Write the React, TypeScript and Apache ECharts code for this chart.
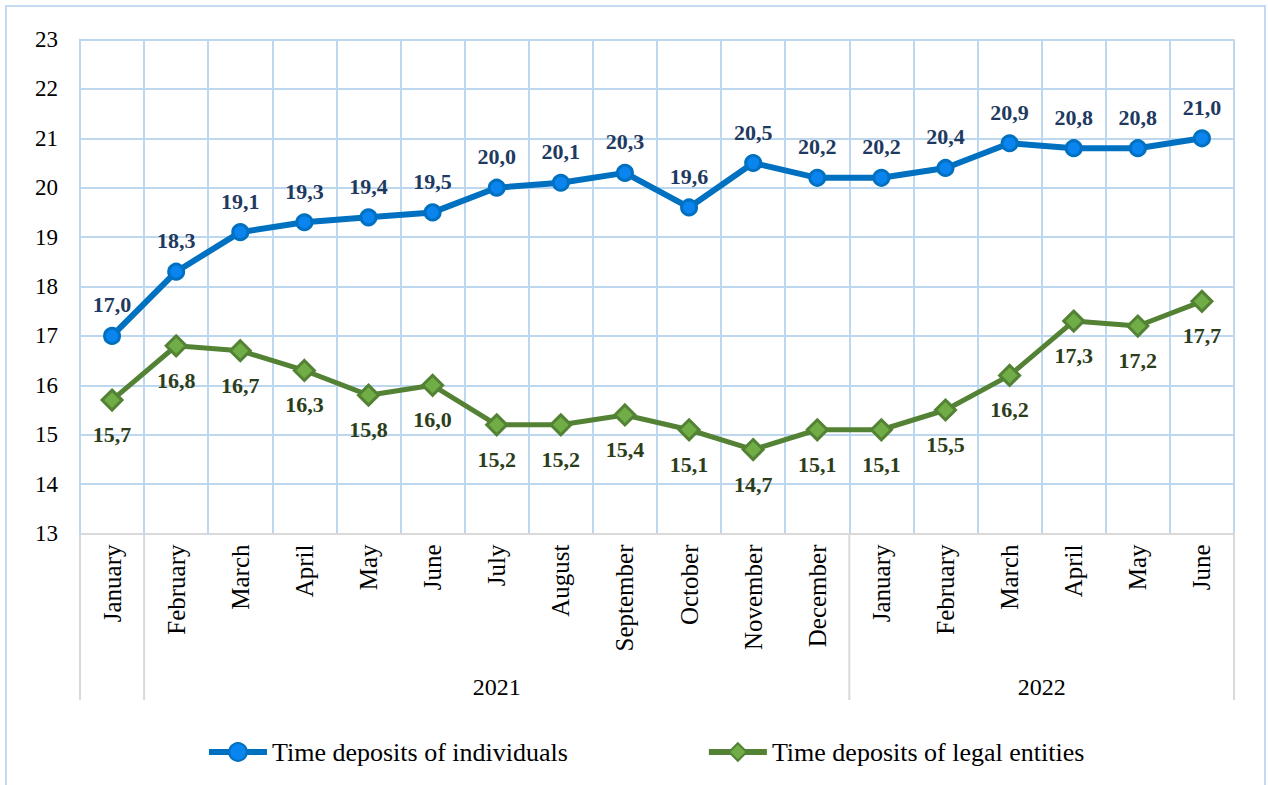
import React, { useEffect, useRef } from "react";
import * as echarts from "echarts";

const months = [
  "January", "February", "March", "April", "May", "June", "July", "August",
  "September", "October", "November", "December",
  "January", "February", "March", "April", "May", "June",
];
const individuals = [17.0, 18.3, 19.1, 19.3, 19.4, 19.5, 20.0, 20.1, 20.3, 19.6, 20.5, 20.2, 20.2, 20.4, 20.9, 20.8, 20.8, 21.0];
const legalEntities = [15.7, 16.8, 16.7, 16.3, 15.8, 16.0, 15.2, 15.2, 15.4, 15.1, 14.7, 15.1, 15.1, 15.5, 16.2, 17.3, 17.2, 17.7];
// year groups: [label, first index, last index]
const yearGroups: [string, number, number][] = [
  ["2021", 1, 11],
  ["2022", 12, 17],
];
const yMin = 13;
const yMax = 23;

const W = 1268;
const H = 785;
const GL = 80;
const GR = 1234;
const GT = 39.5;
const GB = 533.5;
const FONT = "Liberation Serif";

export default function App() {
  const ref = useRef<HTMLDivElement>(null);
  useEffect(() => {
    if (!ref.current) return;
    const chart = echarts.init(ref.current, undefined, { renderer: "svg" });
    const n = months.length;
    const cw = (GR - GL) / n;
    const boundaries = [0, 1, 12, 18];
    const graphics: any[] = [
      {
        type: "rect",
        shape: { x: 6, y: 6, width: 1259, height: 800 },
        style: { fill: "none", stroke: "#C5D9F1", lineWidth: 2 },
        silent: true,
      },
    ];
    boundaries.forEach((b) => {
      graphics.push({
        type: "line",
        shape: { x1: GL + b * cw, y1: GB, x2: GL + b * cw, y2: 700 },
        style: { stroke: "#D9D9D9", lineWidth: 2 },
        silent: true,
      });
    });
    yearGroups.forEach(([label, a, b]) => {
      graphics.push({
        type: "text",
        x: GL + ((a + b + 1) / 2) * cw,
        y: 687,
        style: {
          text: label,
          fontFamily: FONT,
          fontSize: 24,
          fill: "#000",
          align: "center",
          verticalAlign: "middle",
        },
        silent: true,
      });
    });

    const fmt = (p: any) => Number(p.value).toFixed(1).replace(".", ",");

    chart.setOption({
      animation: false,
      backgroundColor: "#fff",
      textStyle: { fontFamily: FONT },
      grid: { left: GL, right: W - GR, top: GT, bottom: H - GB, containLabel: false },
      xAxis: {
        type: "category",
        data: months,
        boundaryGap: true,
        axisLine: { show: true, lineStyle: { color: "#D9D9D9", width: 2 } },
        axisTick: { show: false },
        splitLine: { show: true, interval: 0, lineStyle: { color: "#BDD7EE", width: 2 } },
        axisLabel: {
          interval: 0,
          rotate: 90,
          margin: 11,
          fontFamily: FONT,
          fontSize: 25,
          color: "#000",
        },
      },
      yAxis: {
        type: "value",
        min: yMin,
        max: yMax,
        interval: 1,
        axisLine: { show: true, lineStyle: { color: "#BDD7EE", width: 2 } },
        axisTick: { show: false },
        splitLine: { show: true, lineStyle: { color: "#BDD7EE", width: 2 } },
        axisLabel: { margin: 22, fontFamily: FONT, fontSize: 23, color: "#000" },
      },
      legend: {
        left: 206,
        top: 739,
        padding: 0,
        itemWidth: 58,
        itemHeight: 22,
        itemGap: 138,
        textStyle: { fontFamily: FONT, fontSize: 26, color: "#000" },
        data: [
          {
            name: "Time deposits of individuals",
            lineStyle: { width: 6 },
          },
          {
            name: "Time deposits of legal entities",
            lineStyle: { width: 6 },
          },
        ],
      },
      graphic: graphics,
      series: [
        {
          name: "Time deposits of individuals",
          type: "line",
          data: individuals,
          symbol: "circle",
          symbolSize: 15,
          lineStyle: { color: "#0070C0", width: 6 },
          itemStyle: { color: "#0A84EE", borderColor: "#0070C0", borderWidth: 3 },
          label: {
            show: true,
            position: "top",
            distance: 11,
            formatter: fmt,
            fontFamily: FONT,
            fontSize: 22,
            fontWeight: "bold",
            color: "#1F3A60",
          },
          z: 3,
        },
        {
          name: "Time deposits of legal entities",
          type: "line",
          data: legalEntities,
          symbol: "diamond",
          symbolSize: 20,
          lineStyle: { color: "#548235", width: 5 },
          itemStyle: { color: "#70AD47", borderColor: "#548235", borderWidth: 3 },
          label: {
            show: true,
            position: "bottom",
            distance: 12,
            formatter: fmt,
            fontFamily: FONT,
            fontSize: 22,
            fontWeight: "bold",
            color: "#2C3D1A",
          },
          z: 3,
        },
      ],
    });
    return () => chart.dispose();
  }, []);
  return (
    <div
      ref={ref}
      style={{ position: "absolute", left: 0, top: 0, width: W, height: H }}
    />
  );
}
